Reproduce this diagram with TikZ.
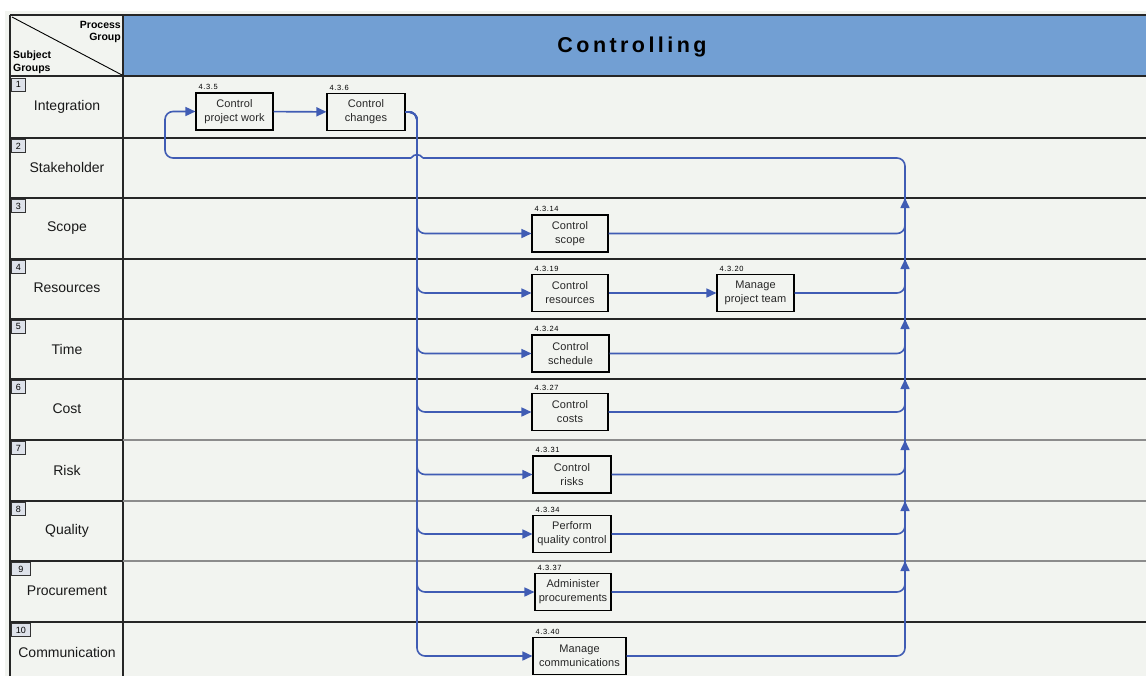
\documentclass[tikz,border=0pt]{standalone}
\usepackage{fontspec}
\setmainfont{Liberation Sans}
\usetikzlibrary{arrows.meta}
\definecolor{bg}{RGB}{242,244,240}
\definecolor{hdr}{RGB}{114,159,211}
\definecolor{conncol}{RGB}{64,92,180}
\definecolor{numfill}{RGB}{222,226,234}
\begin{document}
\begin{tikzpicture}[x=1pt,y=-1pt,
  proc/.style={draw=black, line width=1.1pt, fill=bg, minimum width=#1, minimum height=37pt,
    inner sep=0pt, align=center, font=\fontsize{11}{14}\selectfont\addfontfeatures{LetterSpace=1}, text=black!85},
  proc/.default=77pt,
  pnum/.style={anchor=base west, inner sep=0pt, font=\fontsize{7.5}{7.5}\selectfont\addfontfeatures{LetterSpace=8}},
  rowlbl/.style={inner sep=0pt, font=\fontsize{14}{14}\selectfont, text=black!90},
  numbox/.style={draw=black!80, line width=0.8pt, fill=numfill, anchor=north west, minimum width=#1,
    minimum height=13pt, inner sep=0pt, font=\fontsize{9}{9}\selectfont},
  numbox/.default=14pt,
  hdrlbl/.style={inner sep=0pt, font=\fontsize{10.5}{10.5}\selectfont\bfseries},
  rowline/.style={draw=black!85, line width=1.2pt},
  greyline/.style={draw=black!45, line width=1.4pt},
  connl/.style={draw=conncol, line width=1.6pt, rounded corners=8pt},
  tip/.style={-{Triangle[length=10pt,width=9pt]}}
]
\useasboundingbox (0,0) rectangle (1146,675);
\clip (0,0) rectangle (1146,675);
\fill[white] (0,0) rectangle (1146,675);
\fill[bg] (5,11) rectangle (1150,690);
\fill[hdr] (123,15) rectangle (1150,76);
% grid
\draw[line width=1.8pt, draw=black!85] (10,15) -- (1150,15);
\draw[line width=1.8pt, draw=black!85] (10,76) -- (1150,76);
\draw[rowline] (10,15) -- (10,690);
\draw[rowline] (123,15) -- (123,690);
\draw[line width=0.9pt] (12,17) -- (122,75);
\foreach \yy in {138,198,259,319,379,622} \draw[rowline] (10,\yy) -- (1150,\yy);
\foreach \yy in {440,501,561} {\draw[rowline] (10,\yy) -- (123,\yy); \draw[greyline] (123,\yy) -- (1150,\yy);}
% header texts
\node[anchor=base, inner sep=0pt, font=\fontsize{21.5}{21.5}\selectfont\bfseries\addfontfeatures{LetterSpace=16}] (title) at (632,52) {Controlling};
\node[hdrlbl, anchor=base east] (pg1) at (121,28) {Process};
\node[hdrlbl, anchor=base east] (pg2) at (121,40) {Group};
\node[hdrlbl, anchor=base west] (sg1) at (13,58) {Subject};
\node[hdrlbl, anchor=base west] (sg2) at (13,71) {Groups};
% row numbers
\node[numbox] (b1) at (11,77.5) {1};
\node[numbox] (b2) at (11,139) {2};
\node[numbox] (b3) at (11,199) {3};
\node[numbox] (b4) at (11,260) {4};
\node[numbox] (b5) at (11,320) {5};
\node[numbox] (b6) at (11,380) {6};
\node[numbox] (b7) at (11,441) {7};
\node[numbox] (b8) at (11,502) {8};
\node[numbox=19pt] (b9) at (11,562) {9};
\node[numbox=19pt] (b10) at (11,623) {10};
% row labels
\node[rowlbl] (l1) at (67,107) {Integration};
\node[rowlbl] (l2) at (67,167) {Stakeholder};
\node[rowlbl] (l3) at (67,228) {Scope};
\node[rowlbl] (l4) at (67,288) {Resources};
\node[rowlbl] (l5) at (67,349) {Time};
\node[rowlbl] (l6) at (67,409) {Cost};
\node[rowlbl] (l7) at (67,470) {Risk};
\node[rowlbl] (l8) at (67,531) {Quality};
\node[rowlbl] (l9) at (67,591) {Procurement};
\node[rowlbl] (l10) at (67,652) {Communication};
% process boxes
\node[proc=77pt] (cpw) at (234.5,111.5) {Control\\project work};
\node[proc=78pt] (cc) at (366,112) {Control\\changes};
\node[proc=76pt] (cs) at (570,233.5) {Control\\scope};
\node[proc=76pt] (cr) at (570,293) {Control\\resources};
\node[proc=77pt] (mpt) at (755.5,293) {Manage\\project team};
\node[proc=77pt] (csch) at (570.5,353.5) {Control\\schedule};
\node[proc=76pt] (ccost) at (570,412) {Control\\costs};
\node[proc=78pt] (crisk) at (572,474.5) {Control\\risks};
\node[proc=78pt] (pqc) at (572,534) {Perform\\quality control};
\node[proc=76pt] (ap) at (573,592) {Administer\\procurements};
\node[proc=93pt] (mc) at (579.5,656) {Manage\\communications};
% process numbers
\foreach \nn/\tt in {cpw/4.3.5, cc/4.3.6, cs/4.3.14, cr/4.3.19, mpt/4.3.20, csch/4.3.24, ccost/4.3.27, crisk/4.3.31, pqc/4.3.34, ap/4.3.37, mc/4.3.40}
  \node[pnum] (num-\nn) at ([xshift=3pt,yshift=2.5pt]\nn.north west) {\tt};
% coordinates
\coordinate (spine) at (417,112);
\coordinate (loopR) at (905,158);
\coordinate (loopL) at (165,158);
\coordinate (jR) at (423,158);
\coordinate (jL) at (411,158);
\foreach \k/\yy in {3/198,4/259,5/319,6/379,7/440,8/501,9/561} \coordinate (a\k) at (905,\yy);
% connectors
\draw[connl,tip] (cpw) -- (cc);
\foreach \tg in {cs,cr,csch,ccost,crisk,pqc,ap,mc}
  \draw[connl,tip] (cc.east) -- (spine) |- (\tg.west);
\draw[connl,tip] (cr) -- (mpt);
\foreach \sr/\k in {cs/3,mpt/4,csch/5,ccost/6,crisk/7,pqc/8,ap/9}
  \draw[connl] (\sr.east) -| (a\k);
\draw[connl] (mc.east) -| (loopR) -- (jR);
\draw[connl,rounded corners=0pt] (jR) .. controls (419.5,153.5) and (414.5,153.5) .. (jL);
\draw[connl,tip] (jL) -- (loopL) |- (cpw.west);
\foreach \k in {3,4,5,6,7,8,9}
  \draw[connl,tip,rounded corners=0pt] ([yshift=-12pt]a\k) -- (a\k);
\end{tikzpicture}
\end{document}
